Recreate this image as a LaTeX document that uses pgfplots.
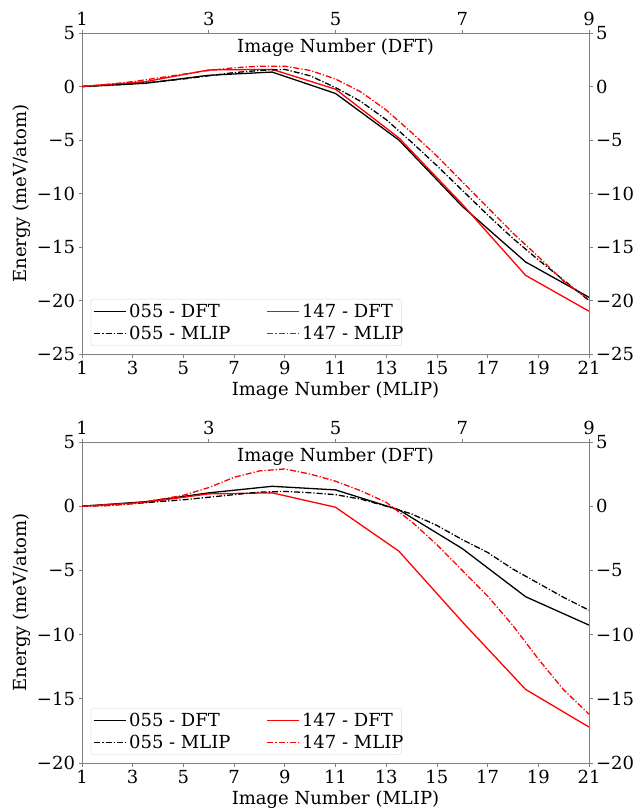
\documentclass[border=0pt]{standalone}
\usepackage{fontspec}
\setmainfont{DejaVu Serif}
\usepackage{pgfplots}
\pgfplotsset{compat=1.18}
\usepackage{pgfplotstable}

\definecolor{axgray}{gray}{0.5}

% top panel: DFT images sit at MLIP positions 1, 3.5, 6, ... 21
\pgfplotstableread{
x    a055   a147
1     0.00   0.00
3.5   0.30   0.45
6     1.05   1.55
8.5   1.35   1.60
11   -0.65  -0.25
13.5 -5.00  -4.80
16  -11.20 -11.00
18.5 -16.40 -17.65
21  -19.70 -21.00
}\dfttop
\pgfplotstableread{
x   a055   a147
1    0.00   0.00
2    0.10   0.20
3    0.25   0.45
4    0.45   0.80
5    0.70   1.15
6    1.00   1.50
7    1.30   1.75
8    1.50   1.90
9    1.60   1.90
10   1.00   1.50
11  -0.10   0.70
12  -1.40  -0.50
13  -3.10  -2.20
14  -5.20  -4.30
15  -7.40  -6.50
16  -9.70  -8.90
17 -12.00 -11.30
18 -14.20 -13.70
19 -16.20 -15.90
20 -18.10 -18.20
21 -20.00 -19.90
}\mliptop
\pgfplotstableread{
x    a055   a147
1     0.00   0.00
3.5   0.35   0.30
6     1.04   0.96
8.5   1.55   1.04
11    1.27  -0.08
13.5 -0.28  -3.50
16   -3.30  -9.00
18.5 -7.05 -14.27
21   -9.26 -17.20
}\dftbot
\pgfplotstableread{
x   a055   a147
1    0.00   0.00
2    0.05   0.05
3    0.20   0.20
4    0.35   0.50
5    0.50   0.85
6    0.70   1.45
7    0.90   2.25
8    1.10   2.75
9    1.15   2.90
10   1.05   2.50
11   0.90   1.95
12   0.55   1.20
13   0.00   0.30
14  -0.60  -1.20
15  -1.50  -3.00
16  -2.60  -5.00
17  -3.60  -7.00
18  -4.90  -9.30
19  -6.00 -11.90
20  -7.10 -14.30
21  -8.10 -16.20
}\mlipbot

\tikzset{
  dashdot/.style={dash pattern=on 6pt off 2pt on 1.2pt off 2pt},
  s055dft/.style={draw=black, line width=1.3pt},
  s147dft/.style={draw=red, line width=1.3pt},
  s055mlip/.style={draw=black, line width=1.3pt, dashdot},
  s147mlip/.style={draw=red, line width=1.3pt, dashdot},
}

\pgfplotsset{
  base/.style={
    scale only axis, width=507pt, height=321pt,
    xmin=1, xmax=21,
    tick align=outside, major tick length=3.5pt,
    every tick/.style={axgray, line width=0.8pt},
    axis line style={axgray, line width=0.8pt, -},
    tick label style={font=\fontsize{18}{18}\selectfont},
    label style={font=\fontsize{18}{18}\selectfont},
    /pgf/number format/assume math mode=true,
    legend cell align=left,
    legend image code/.code={\draw[##1] (0pt,0pt) -- (32pt,0pt);},
  },
  % the legend is built as two one-column legends, since the second column of
  % a two-column legend kept losing its colours; the first one carries the frame
  mainax/.style={
    base, axis x line*=bottom, axis y line*=left,
    xtick={1,3,...,21},
    xlabel={Image Number (MLIP)}, ylabel={Energy (meV/atom)},
    legend style={at={(0.017,0.025)}, anchor=south west,
      draw=gray!30, fill=white, rounded corners=3pt, inner sep=3pt,
      font=\fontsize{18}{18}\selectfont, row sep=3pt},
  },
  topax/.style={
    base, xmin=1, xmax=9, axis x line*=top, axis y line*=right,
    xtick={1,3,5,7,9},
    xlabel={Image Number (DFT)},
    xlabel style={at={(axis description cs:0.5,1)}, anchor=north, yshift=-2pt},
    legend style={at={(0.358,0.025)}, anchor=south west,
      draw=none, fill=none, inner sep=3pt,
      font=\fontsize{18}{18}\selectfont, row sep=3pt},
  },
}

\begin{document}
\begin{tikzpicture}
% ---- top panel
\begin{axis}[mainax, at={(82pt,-354pt)}, ymin=-25, ymax=5,
  ytick={-25,-20,...,5}, yticklabels={−25,−20,−15,−10,−5,0,5}]
\addplot[s055dft, forget plot] table[x=x, y=a055] {\dfttop};
\addplot[s147dft, forget plot] table[x=x, y=a147] {\dfttop};
\addplot[s055mlip, forget plot] table[x=x, y=a055] {\mliptop};
\addplot[s147mlip, forget plot] table[x=x, y=a147] {\mliptop};
\addlegendimage{s055dft}\addlegendentry{055 - DFT}
\addlegendimage{s055mlip}\addlegendentry{055 - MLIP\hspace*{166pt}}
\end{axis}
\begin{axis}[topax, at={(82pt,-354pt)}, ymin=-25, ymax=5,
  ytick={-25,-20,...,5}, yticklabels={−25,−20,−15,−10,−5,0,5}]
\addlegendimage{s147dft}\addlegendentry{147 - DFT}
\addlegendimage{s147mlip}\addlegendentry{147 - MLIP}
\end{axis}

% ---- bottom panel
\begin{axis}[mainax, at={(82pt,-763pt)}, ymin=-20, ymax=5,
  ytick={-20,-15,...,5}, yticklabels={−20,−15,−10,−5,0,5}]
\addplot[s055dft, forget plot] table[x=x, y=a055] {\dftbot};
\addplot[s147dft, forget plot] table[x=x, y=a147] {\dftbot};
\addplot[s055mlip, forget plot] table[x=x, y=a055] {\mlipbot};
\addplot[s147mlip, forget plot] table[x=x, y=a147] {\mlipbot};
\addlegendimage{s055dft}\addlegendentry{055 - DFT}
\addlegendimage{s055mlip}\addlegendentry{055 - MLIP\hspace*{166pt}}
\end{axis}
\begin{axis}[topax, at={(82pt,-763pt)}, ymin=-20, ymax=5,
  ytick={-20,-15,...,5}, yticklabels={−20,−15,−10,−5,0,5}]
\addlegendimage{s147dft}\addlegendentry{147 - DFT}
\addlegendimage{s147mlip}\addlegendentry{147 - MLIP}
\end{axis}

\pgfresetboundingbox
\path[use as bounding box] (0pt,0pt) rectangle (638pt,-808pt);
\end{tikzpicture}
\end{document}
